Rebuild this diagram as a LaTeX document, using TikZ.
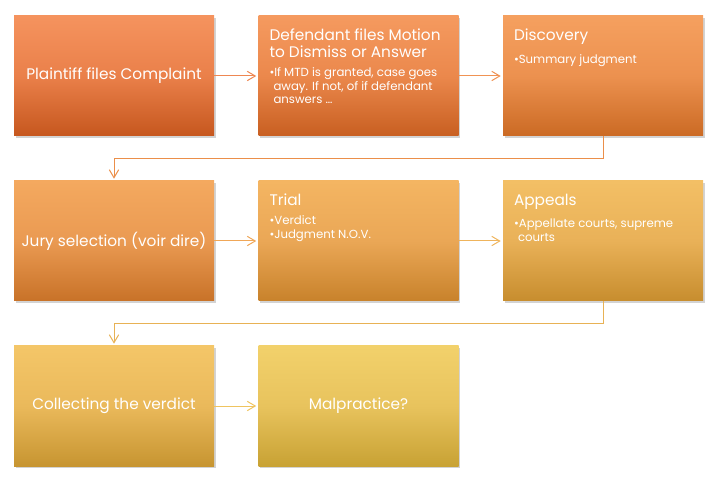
\documentclass[tikz,border=0pt]{standalone}
\usepackage{fontspec}
\setmainfont{Poppins}
\usetikzlibrary{positioning,shadows,arrows.meta}

% box colours, orange to yellow
\definecolor{top1}{HTML}{F5935E}\definecolor{mid1}{HTML}{EA804A}\definecolor{bot1}{HTML}{C6571E}
\definecolor{top2}{HTML}{F59A5F}\definecolor{mid2}{HTML}{EB884C}\definecolor{bot2}{HTML}{C85F21}
\definecolor{top3}{HTML}{F5A05F}\definecolor{mid3}{HTML}{EC914F}\definecolor{bot3}{HTML}{CB6A24}
\definecolor{top4}{HTML}{F4A95F}\definecolor{mid4}{HTML}{EA9A52}\definecolor{bot4}{HTML}{C87228}
\definecolor{top5}{HTML}{F4B562}\definecolor{mid5}{HTML}{EAA756}\definecolor{bot5}{HTML}{C8822B}
\definecolor{top6}{HTML}{F3BF65}\definecolor{mid6}{HTML}{E9B158}\definecolor{bot6}{HTML}{C78D2E}
\definecolor{top7}{HTML}{F4C668}\definecolor{mid7}{HTML}{EAB95B}\definecolor{bot7}{HTML}{C79531}
\definecolor{top8}{HTML}{F2D16B}\definecolor{mid8}{HTML}{E8C35D}\definecolor{bot8}{HTML}{C8A234}
% connector colours
\definecolor{arr1}{HTML}{EE8752}
\definecolor{arr2}{HTML}{F09354}
\definecolor{arr3}{HTML}{EB8F4A}
\definecolor{arr4}{HTML}{F0A758}
\definecolor{arr5}{HTML}{EFB45C}
\definecolor{arr6}{HTML}{E8B255}
\definecolor{arr7}{HTML}{EFC460}

\begin{document}
\begin{tikzpicture}[x=0.75pt, y=0.75pt,
    stepbox/.style={minimum width=150pt, minimum height=90pt, inner sep=0pt,
      text=white, align=center, font=\fontsize{11.5}{13}\selectfont,
      drop shadow={shadow xshift=1.2pt, shadow yshift=-1.6pt, opacity=0.35}},
    head/.style={anchor=north west, inner sep=0pt, text=white, align=left,
      font=\fontsize{11.5}{12.75}\selectfont},
    items/.style={anchor=north west, inner sep=0pt, text=white, align=left,
      font=\fontsize{8.8}{10.2}\selectfont},
    link/.style={line width=0.75pt, -{Straight Barb[length=6pt, width=7pt]}, shorten >=1.5pt}]
  \useasboundingbox (0,0) rectangle (716,485);

  % Draw the boxes
  \foreach \name/\x/\y/\c/\txt in {plaintiff/114/409/1/{Plaintiff files Complaint},
      motion/358.5/409/2/{}, disc/603/409/3/{},
      jury/114/244/4/{Jury selection (voir dire)}, trial/358.5/244/5/{}, appeal/603/244/6/{},
      collect/114/79/7/{Collecting the verdict}, malpractice/358.5/79/8/{Malpractice?}} {
    \node[stepbox, top color=top\c, bottom color=bot\c, middle color=mid\c] (\name) at (\x,\y) {\txt};
  }

  % Titles and bullets
  \node[head] (motionT) at ([shift={(11,-13)}]motion.north west) {Defendant files Motion\\to Dismiss or Answer};
  \node[items, below=7pt of motionT.south west, anchor=north west] (motionB)
    {•If MTD is granted, case goes\\\hspace*{3pt}away. If not, of if defendant\\\hspace*{3pt}answers …};
  \node[head] (discT) at ([shift={(11,-13)}]disc.north west) {Discovery};
  \node[items, below=7pt of discT.south west, anchor=north west] (discB) {•Summary judgment};
  \node[head] (trialT) at ([shift={(11,-13)}]trial.north west) {Trial};
  \node[items, below=7pt of trialT.south west, anchor=north west] (trialB) {•Verdict\\•Judgment N.O.V.};
  \node[head] (appealT) at ([shift={(11,-13)}]appeal.north west) {Appeals};
  \node[items, below=7pt of appealT.south west, anchor=north west] (appealB)
    {•Appellate courts, supreme\\\hspace*{3pt}courts};

  % Connect the boxes
  \draw[link, arr1] (plaintiff) -- (motion);
  \draw[link, arr2] (motion) -- (disc);
  \draw[link, arr3] (disc.south) -- ++(0,-22) -| (jury.north);
  \draw[link, arr4] (jury) -- (trial);
  \draw[link, arr5] (trial) -- (appeal);
  \draw[link, arr6] (appeal.south) -- ++(0,-22) -| (collect.north);
  \draw[link, arr7] (collect) -- (malpractice);
\end{tikzpicture}
\end{document}
